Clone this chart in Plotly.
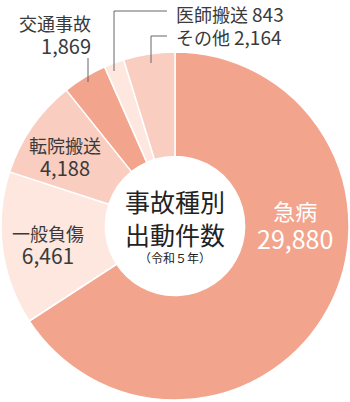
import plotly.graph_objects as go

categories = ["急病", "一般負傷", "転院搬送", "交通事故", "医師搬送", "その他"]
values = [29880, 6461, 4188, 1869, 843, 2164]
value_labels = ["29,880", "6,461", "4,188", "1,869", "843", "2,164"]
colors = ["#F3A48D", "#FDE7DE", "#F9CDBF", "#F3A48D", "#FDE7DE", "#F9CDBF"]
center_title = ["事故種別", "出動件数"]
center_sub = "（令和５年）"

W, H = 350, 402
FONT = "Noto Sans CJK JP"
TXT = "#3a3a3a"

def px(x):
    return x / W

def py(y):
    return 1 - y / H

fig = go.Figure(go.Pie(
    labels=categories,
    values=values,
    sort=False,
    direction="clockwise",
    rotation=0,
    hole=0.40,
    marker=dict(colors=colors, line=dict(color="white", width=1.5)),
    textinfo="none",
    hoverinfo="label+value",
    domain=dict(x=[0, 1], y=[2 / H, 1 - 52 / H]),
    showlegend=False,
))

annotations = []

def ann(x, y, text, size, color=TXT, xanchor="center"):
    annotations.append(dict(
        x=px(x), y=py(y), xref="paper", yref="paper", text=text,
        showarrow=False, xanchor=xanchor, yanchor="middle",
        align=xanchor if xanchor != "center" else "center",
        font=dict(family=FONT, size=size, color=color),
        borderpad=0,
    ))

def two_line(i, numsize):
    return f"{categories[i]}<br><span style='font-size:{numsize}px'>{value_labels[i]}</span>"

# slice labels
ann(295, 225, two_line(0, 25), 22, "white")
ann(48, 245, two_line(1, 21), 18)
ann(65, 157, two_line(2, 20), 18)
ann(92, 35, two_line(3, 20), 18, xanchor="right")
ann(175, 13, f"{categories[4]} <span style='font-size:19px'>{value_labels[4]}</span>", 18, xanchor="left")
ann(175, 37, f"{categories[5]} <span style='font-size:19px'>{value_labels[5]}</span>", 18, xanchor="left")

# center text
ann(175, 217, "<br>".join(center_title), 25, "#222222")
ann(175, 257, center_sub, 12, "#222222")

line = dict(color="#666666", width=1)
shapes = [
    # 交通事故
    dict(type="line", xref="paper", yref="paper", x0=px(88), y0=py(58), x1=px(88), y1=py(82), line=line),
    # 医師搬送
    dict(type="path", xref="paper", yref="paper",
         path=f"M {px(114)},{py(71)} L {px(114)},{py(11)} L {px(167)},{py(11)}", line=line),
    # その他
    dict(type="path", xref="paper", yref="paper",
         path=f"M {px(151)},{py(63)} L {px(151)},{py(36)} L {px(167)},{py(36)}", line=line),
]

fig.update_layout(
    width=W, height=H,
    margin=dict(l=0, r=0, t=0, b=0),
    paper_bgcolor="white",
    plot_bgcolor="white",
    annotations=annotations,
    shapes=shapes,
)

fig.write_html("out.html")
